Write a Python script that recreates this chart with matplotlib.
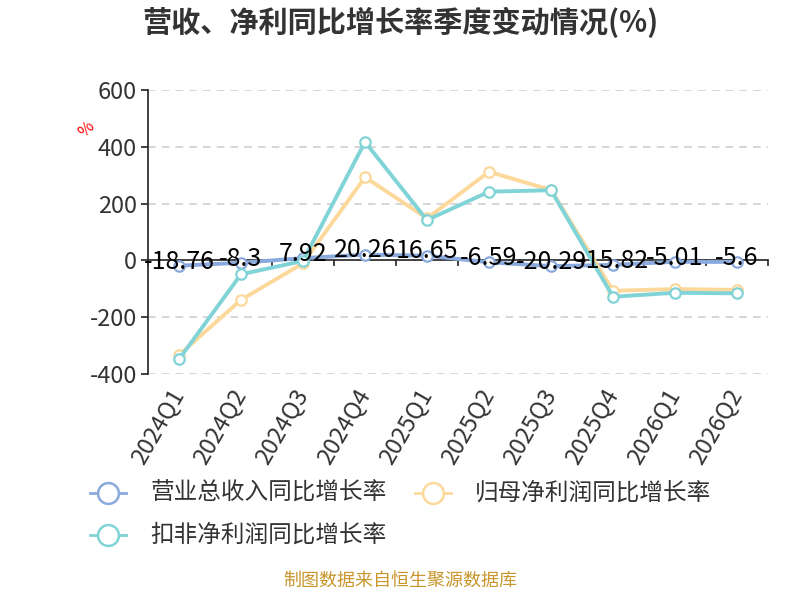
import matplotlib
matplotlib.use("Agg")
import matplotlib.pyplot as plt
from matplotlib.lines import Line2D

plt.rcParams['font.family'] = ['Noto Sans CJK SC', 'DejaVu Sans']

categories = ["2024Q1", "2024Q2", "2024Q3", "2024Q4", "2025Q1",
              "2025Q2", "2025Q3", "2025Q4", "2026Q1", "2026Q2"]
revenue_yoy = [-18.76, -8.3, 7.92, 20.26, 16.65, -6.59, -20.29, -15.82, -5.01, -5.6]
netprofit_yoy = [-333, -139, -10, 293, 148, 312, 248, -107, -101, -104]
deducted_yoy = [-348, -49, -2, 417, 142, 242, 247, -128, -114, -116]
series_names = ["营业总收入同比增长率", "归母净利润同比增长率", "扣非净利润同比增长率"]
yticks = [-400, -200, 0, 200, 400, 600]

c_blue = '#8aa9dc'
c_orange = '#fdd89b'
c_teal = '#80d3d6'

fig = plt.figure(figsize=(8, 6), dpi=100)
ax = fig.add_axes([0.185, 0.3767, 0.775, 0.4733])
x = list(range(len(categories)))

ax.set_xlim(-0.5, len(categories) - 0.5)
ax.set_ylim(-400, 600)

for y in yticks:
    if y != 0:
        ax.axhline(y, color='#cccccc', lw=1.1, ls=(0, (5, 4)), zorder=0)

ax.plot(x, revenue_yoy, color=c_blue, lw=2.8, marker='o', ms=7.5,
        mfc='white', mec=c_blue, mew=1.6, zorder=3)
ax.plot(x, netprofit_yoy, color=c_orange, lw=2.8, marker='o', ms=7.5,
        mfc='white', mec=c_orange, mew=1.6, zorder=4)
ax.plot(x, deducted_yoy, color=c_teal, lw=2.8, marker='o', ms=7.5,
        mfc='white', mec=c_teal, mew=1.6, zorder=5)

# zero axis line with ticks at band boundaries
ax.axhline(0, color='#333333', lw=1.3, zorder=2)
for b in range(len(categories) + 1):
    ax.plot([b - 0.5, b - 0.5], [0, -17], color='#333333', lw=1.3, zorder=2,
            clip_on=False)

for xi, v in zip(x, revenue_yoy):
    ax.annotate(f"{v:g}", (xi, v), xytext=(0, 3), textcoords='offset points',
                ha='center', va='center', fontsize=18, color='black', zorder=10)

for s in ['top', 'right', 'bottom']:
    ax.spines[s].set_visible(False)
ax.spines['left'].set_color('#333333')
ax.spines['left'].set_linewidth(1.3)

ax.set_yticks(yticks)
ax.set_yticklabels([str(t) for t in yticks], fontsize=17, color='#333333')
ax.tick_params(axis='y', length=5, color='#333333', width=1.3, pad=3)

ax.set_xticks(x)
ax.set_xticklabels(categories, rotation=60, ha='right', va='center',
                   rotation_mode='anchor', fontsize=17, color='#333333')
ax.tick_params(axis='x', length=0, pad=12)

fig.text(0.108, 0.785, "%", color='red', fontsize=12, rotation=45,
         ha='center', va='center')

fig.text(0.5, 0.963, "营收、净利同比增长率季度变动情况(%)", ha='center', va='center',
         fontsize=21, fontweight='bold', color='#333333')

# legend, drawn manually in figure pixels
legend_items = [(series_names[0], c_blue, 90, 493),
                (series_names[1], c_orange, 415, 493),
                (series_names[2], c_teal, 90, 535)]
W, H = 800, 600
for name, col, lx, ly in legend_items:
    fy = 1 - ly / H
    fig.add_artist(Line2D([lx / W, (lx + 36) / W], [fy, fy], color=col, lw=2,
                          transform=fig.transFigure))
    fig.add_artist(Line2D([(lx + 18) / W], [fy], marker='o', ms=15, mfc='white',
                          mec=col, mew=1.8, transform=fig.transFigure))
    fig.text((lx + 60) / W, fy, name, ha='left', va='center', fontsize=17,
             color='#333333')

fig.text(0.5, 0.017, "制图数据来自恒生聚源数据库", ha='center', va='bottom',
         fontsize=13, color='#c8962b')

fig.savefig("out.png", dpi=100)
